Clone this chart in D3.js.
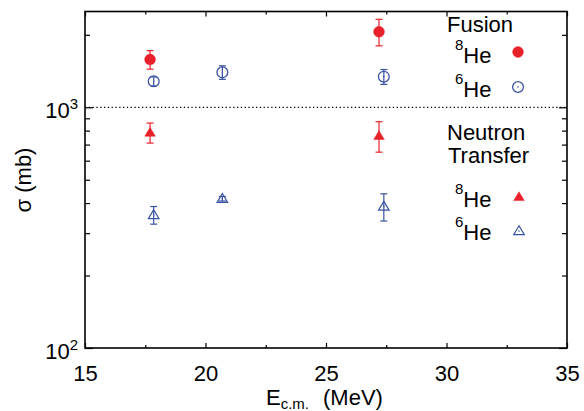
<!DOCTYPE html>
<html>
<head>
<meta charset="utf-8">
<script src="https://cdn.jsdelivr.net/npm/d3@7"></script>
<style>
  html, body { margin: 0; padding: 0; background: #fff; }
  svg { display: block; font-family: "Liberation Sans", Arial, Helvetica, sans-serif; }
</style>
</head>
<body>
<svg id="chart" width="584" height="411"></svg>
<script>
// Cross sections (mb) vs. centre-of-mass energy (MeV)
const fusion8E = [17.7, 27.2];
const fusion8S = [1580, 2060];
const fusion8Err = [140, 260];

const fusion6E = [17.85, 20.7, 27.4];
const fusion6S = [1282, 1397, 1340];
const fusion6Err = [55, 90, 95];

const transfer8E = [17.7, 27.2];
const transfer8S = [785, 761];
const transfer8Err = [75, 110];

const transfer6E = [17.85, 20.7, 27.4];
const transfer6S = [357, 417, 387];
const transfer6Err = [30, 9, 50];

const xMajor = [15, 20, 25, 30, 35];
const xMinor = [17.5, 22.5, 27.5, 32.5];
const yMajor = [100, 1000];
const yMinor = [200, 300, 400, 500, 600, 700, 800, 900, 2000];
const yExponents = ["2", "3"];

const RED = "#e8202a";
const BLUE = "#3a52a3";

const svg = d3.select("#chart");
const L = 85, R = 567, T = 11.5, B = 348;

const x = d3.scaleLinear().domain([15, 35]).range([L, R]);
const y = d3.scaleLog().domain([100, 2500]).range([B, T]);

// tick marks on all four sides, pointing inward
function ticks(axisFn, scale, values, size, tx, ty, fmt) {
  const a = axisFn(scale).tickValues(values).tickSizeInner(-size).tickSizeOuter(0);
  if (fmt === undefined) a.tickFormat("");
  else a.tickFormat(fmt);
  const g = svg.append("g").attr("transform", `translate(${tx},${ty})`).call(a);
  g.select(".domain").remove();
  g.selectAll(".tick line").attr("stroke", "#000").attr("stroke-width", 1.2);
  return g;
}

const xb = ticks(d3.axisBottom, x, xMajor, 5, 0, B, d3.format("d"));
xb.call(a => a.selectAll("text")
  .attr("font-size", 22).attr("fill", "#000")
  .attr("y", 17).attr("font-family", "Liberation Sans, Arial, sans-serif"));
ticks(d3.axisBottom, x, xMinor, 3, 0, B);
ticks(d3.axisTop, x, xMajor, 5, 0, T);
ticks(d3.axisTop, x, xMinor, 3, 0, T);

const yl = ticks(d3.axisLeft, y, yMajor, 8, L, 0);
ticks(d3.axisLeft, y, yMinor, 5, L, 0);
ticks(d3.axisRight, y, yMajor, 8, R, 0);
ticks(d3.axisRight, y, yMinor, 5, R, 0);

// 10^n labels on the left axis
yl.selectAll(".tick").each(function(d, i) {
  d3.select(this).select("text").remove();
  const t = d3.select(this).append("text")
    .attr("x", -7).attr("y", 10)
    .attr("text-anchor", "end").attr("fill", "#000");
  t.append("tspan").attr("font-size", 22).text("10");
  t.append("tspan").attr("font-size", 15).attr("dy", -9).text(yExponents[i]);
});

// dotted reference line at 1 b
svg.append("line")
  .attr("x1", L).attr("x2", R)
  .attr("y1", y(1000)).attr("y2", y(1000))
  .attr("stroke", "#000").attr("stroke-width", 1.3)
  .attr("stroke-dasharray", "1.3,2.5");

// frame
svg.append("rect")
  .attr("x", L).attr("y", T).attr("width", R - L).attr("height", B - T)
  .attr("fill", "none").attr("stroke", "#000").attr("stroke-width", 1.6);

// error bars
function errorBars(E, S, Err, color) {
  const g = svg.append("g").attr("stroke", color).attr("stroke-width", 1.2).attr("fill", "none");
  E.forEach((e, i) => {
    const cx = x(e), y1 = y(S[i] + Err[i]), y0 = y(S[i] - Err[i]);
    g.append("line").attr("x1", cx).attr("x2", cx).attr("y1", y1).attr("y2", y0);
    g.append("line").attr("x1", cx - 3.5).attr("x2", cx + 3.5).attr("y1", y1).attr("y2", y1);
    g.append("line").attr("x1", cx - 3.5).attr("x2", cx + 3.5).attr("y1", y0).attr("y2", y0);
  });
}

const triPath = "M0,-5.2 L5.3,3.6 L-5.3,3.6 Z";

function circleMark(g, cx, cy, color, filled) {
  g.append("circle").attr("cx", cx).attr("cy", cy).attr("r", 5.4)
    .attr("fill", filled ? color : "none")
    .attr("stroke", color).attr("stroke-width", filled ? 0.5 : 1.3);
  if (!filled) g.append("circle").attr("cx", cx).attr("cy", cy).attr("r", 0.8).attr("fill", color);
}
function triMark(g, cx, cy, color, filled) {
  g.append("path").attr("d", triPath).attr("transform", `translate(${cx},${cy})`)
    .attr("fill", filled ? color : "none")
    .attr("stroke", color).attr("stroke-width", filled ? 0.5 : 1.2)
    .attr("stroke-linejoin", "miter");
  if (!filled) g.append("circle").attr("cx", cx).attr("cy", cy).attr("r", 0.8).attr("fill", color);
}

errorBars(fusion8E, fusion8S, fusion8Err, RED);
errorBars(fusion6E, fusion6S, fusion6Err, BLUE);
errorBars(transfer8E, transfer8S, transfer8Err, RED);
errorBars(transfer6E, transfer6S, transfer6Err, BLUE);

const marks = svg.append("g");
fusion8E.forEach((e, i) => circleMark(marks, x(e), y(fusion8S[i]), RED, true));
fusion6E.forEach((e, i) => circleMark(marks, x(e), y(fusion6S[i]), BLUE, false));
transfer8E.forEach((e, i) => triMark(marks, x(e), y(transfer8S[i]), RED, true));
transfer6E.forEach((e, i) => triMark(marks, x(e), y(transfer6S[i]), BLUE, false));

// legend
const leg = svg.append("g").attr("fill", "#000");
function plainText(tx, ty, s) {
  leg.append("text").attr("x", tx).attr("y", ty).attr("font-size", 22).text(s);
}
function isotope(tx, ty, mass) {
  const t = leg.append("text").attr("x", tx).attr("y", ty);
  t.append("tspan").attr("font-size", 15).attr("dy", -13).text(mass);
  t.append("tspan").attr("font-size", 22).attr("dy", 13).text("He");
}
plainText(447, 32, "Fusion");
isotope(455, 63, "8");
isotope(455, 97, "6");
plainText(447, 140, "Neutron");
plainText(448, 163, "Transfer");
isotope(455, 207, "8");
isotope(455, 240, "6");

circleMark(leg, 518, 52, RED, true);
circleMark(leg, 518, 87, BLUE, false);
triMark(leg, 519, 197, RED, true);
triMark(leg, 519, 231, BLUE, false);

// axis titles
svg.append("text")
  .attr("transform", "translate(31,180) rotate(-90)")
  .attr("text-anchor", "middle").attr("font-size", 22).attr("fill", "#000")
  .text("σ (mb)");

const xt = svg.append("text").attr("x", 266).attr("y", 405).attr("font-size", 22).attr("fill", "#000");
xt.append("tspan").text("E");
xt.append("tspan").attr("font-size", 15).attr("dy", 4).text("c.m.");
xt.append("tspan").attr("x", 323).attr("dy", -4).text("(MeV)");
</script>
</body>
</html>
